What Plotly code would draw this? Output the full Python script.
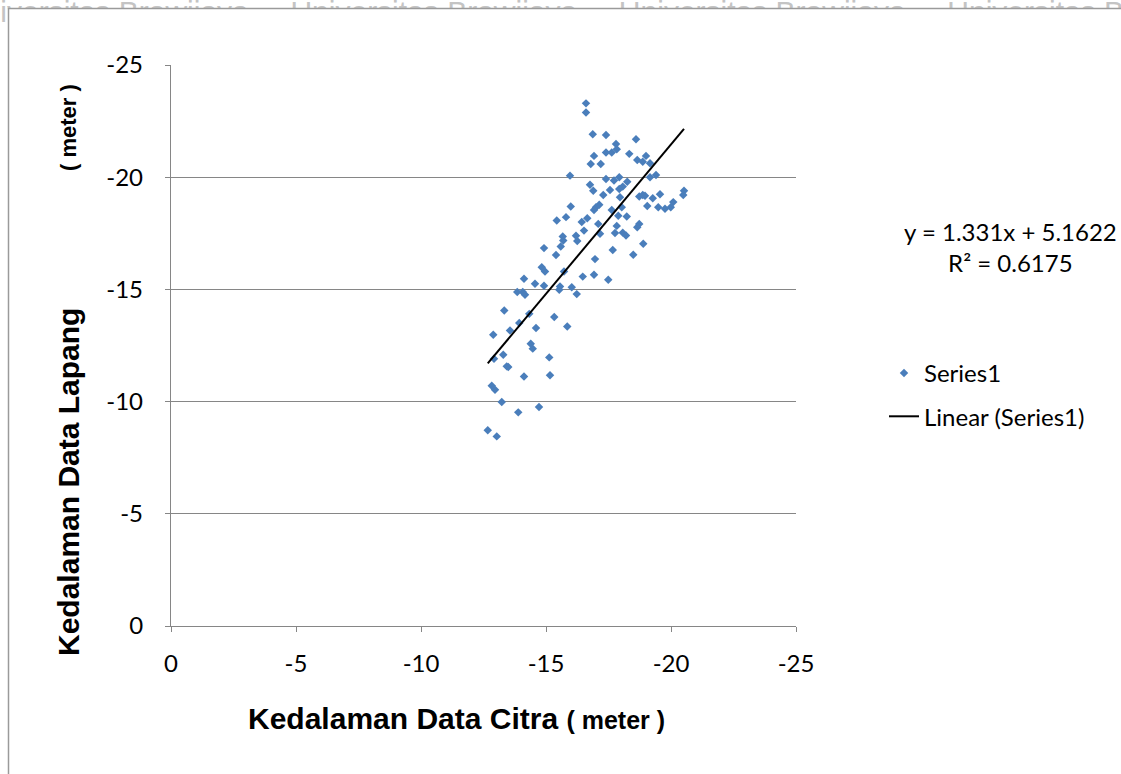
import plotly.graph_objects as go

# Depth from imagery (x) vs. depth measured in the field (y), metres
citra = [
    -16.60, -16.60, -16.87, -17.40, -18.60, -17.80, -17.83, -17.40, -17.63, -16.92,
    -18.33, -19.00, -18.65, -18.87, -19.16, -16.79, -17.19, -15.96, -19.40, -19.16,
    -17.93, -17.40, -17.72, -18.25, -16.76, -18.07, -16.89, -17.93, -17.56, -20.52,
    -20.49, -17.29, -18.73, -18.96, -18.87, -19.56, -19.27, -17.96, -17.13, -17.00,
    -16.92, -18.03, -20.09, -19.99, -19.76, -19.49, -19.05, -17.63, -17.89, -18.23,
    -16.65, -16.43, -17.09, -17.83, -18.73, -18.65, -16.52, -17.16, -17.76, -18.07,
    -18.20, -18.89, -17.67, -18.49, -16.96, -15.99, -15.43, -15.80, -15.67, -16.20,
    -15.59, -16.25, -15.69, -14.92, -15.40, -14.83, -14.96, -15.72, -16.47, -14.12,
    -14.56, -14.92, -15.56, -15.53, -16.03, -16.23, -13.85, -14.07, -14.16, -13.33,
    -14.33, -13.93, -13.56, -14.60, -15.33, -15.85, -12.89, -14.39, -14.47, -13.29,
    -12.92, -15.13, -13.43, -13.49, -14.12, -15.16, -12.83, -12.96, -13.23, -14.72,
    -13.89, -12.67, -13.03, -16.92, -17.49,
]
lapang = [
    -23.29, -22.88, -21.91, -21.88, -21.69, -21.48, -21.25, -21.10, -21.10, -20.95,
    -21.04, -20.95, -20.77, -20.69, -20.62, -20.59, -20.59, -20.07, -20.10, -20.00,
    -20.00, -19.92, -19.85, -19.80, -19.66, -19.58, -19.40, -19.47, -19.43, -19.40,
    -19.21, -19.21, -19.14, -19.17, -19.21, -19.24, -19.06, -19.11, -18.77, -18.66,
    -18.54, -18.66, -18.89, -18.66, -18.59, -18.66, -18.72, -18.54, -18.28, -18.25,
    -18.17, -18.00, -17.92, -17.83, -17.92, -17.77, -17.62, -17.48, -17.51, -17.53,
    -17.40, -17.03, -16.76, -16.54, -16.35, -18.69, -18.07, -18.22, -17.36, -17.39,
    -16.91, -17.16, -17.18, -16.84, -16.53, -15.99, -15.80, -15.80, -15.57, -15.47,
    -15.25, -15.16, -15.13, -14.98, -15.10, -14.79, -14.88, -14.88, -14.76, -14.06,
    -13.91, -13.50, -13.17, -13.28, -13.77, -13.35, -12.98, -12.58, -12.36, -12.09,
    -11.91, -11.97, -11.57, -11.54, -11.12, -11.17, -10.71, -10.53, -9.98, -9.76,
    -9.52, -8.72, -8.45, -15.65, -15.43,
]

# Linear trendline reported for the series
SLOPE = 1.331
INTERCEPT = 5.1622
R_SQUARED = 0.6175

tick_values = [0, -5, -10, -15, -20, -25]
tick_labels = ["0", "-5", "-10", "-15", "-20", "-25"]

WIDTH, HEIGHT = 1121, 774
M_L, M_R, M_T, M_B = 171, 325, 65, 148
PLOT_W = WIDTH - M_L - M_R
PLOT_H = HEIGHT - M_T - M_B


def fx(px):
    """Page pixel column -> paper x."""
    return (px - M_L) / PLOT_W


def fy(py):
    """Page pixel row -> paper y."""
    return (HEIGHT - M_B - py) / PLOT_H


GRID = "#868686"
BLUE = "#4A7EBB"
LABEL_FONT = "Lato, Calibri, sans-serif"
TITLE_FONT = "Liberation Sans, Arial, sans-serif"
LABEL_SIZE = 24

fig = go.Figure()

fig.add_trace(go.Scatter(
    x=citra, y=lapang, mode="markers", name="Series1",
    marker=dict(symbol="diamond", size=6.5, color=BLUE, line=dict(width=0)),
    legendgroup="a",
))

x_lo, x_hi = max(citra), min(citra)
fig.add_trace(go.Scatter(
    x=[x_lo, x_hi],
    y=[SLOPE * x_lo + INTERCEPT, SLOPE * x_hi + INTERCEPT],
    mode="lines", name="Linear (Series1)",
    line=dict(color="black", width=2),
    legendgroup="b",
))

# Page background: watermark line, then the white chart box over it
phrase = "Universitas\u00a0Brawijaya" + "\u00a0" * 5
shapes = [
    dict(
        type="rect", xref="paper", yref="paper", layer="below",
        x0=fx(-41), x1=fx(1400), y0=fy(34), y1=fy(-8),
        line=dict(width=0), fillcolor="rgba(0,0,0,0)",
        label=dict(text=phrase * 4, textposition="top left", padding=0,
                   font=dict(family=TITLE_FONT, size=30, color="#c4c4c4")),
    ),
    dict(
        type="rect", xref="paper", yref="paper", layer="below",
        x0=fx(8.5), x1=fx(1140), y0=fy(800), y1=fy(8.5),
        line=dict(color="#9a9a9a", width=1.5), fillcolor="white",
    ),
]

annotations = [
    dict(text=f"y = {SLOPE}x + {INTERCEPT}<br>R\u00b2 = {R_SQUARED}",
         xref="paper", yref="paper", x=fx(1010), y=fy(247),
         xanchor="center", yanchor="middle", align="center", showarrow=False,
         font=dict(family=LABEL_FONT, size=LABEL_SIZE, color="black")),
    dict(text="<b>Kedalaman Data Citra <span style='font-size:25px'>( meter )</span></b>",
         xref="paper", yref="paper", x=fx(456), y=fy(718),
         xanchor="center", yanchor="middle", showarrow=False,
         font=dict(family=TITLE_FONT, size=30, color="black")),
    dict(text="<b>Kedalaman Data Lapang</b>",
         xref="paper", yref="paper", x=fx(68), y=fy(482), textangle=-90,
         xanchor="center", yanchor="middle", showarrow=False,
         font=dict(family=TITLE_FONT, size=30, color="black")),
    dict(text="<b>( meter )</b>",
         xref="paper", yref="paper", x=fx(68), y=fy(128), textangle=-90,
         xanchor="center", yanchor="middle", showarrow=False,
         font=dict(family=TITLE_FONT, size=22, color="black")),
]

fig.update_layout(
    width=WIDTH, height=HEIGHT,
    margin=dict(l=M_L, r=M_R, t=M_T, b=M_B, pad=0),
    paper_bgcolor="white", plot_bgcolor="rgba(0,0,0,0)",
    shapes=shapes, annotations=annotations,
    showlegend=True,
    legend=dict(x=fx(884), y=fy(351), xanchor="left", yanchor="top",
                traceorder="grouped", tracegroupgap=9,
                font=dict(family=LABEL_FONT, size=LABEL_SIZE, color="black"),
                bgcolor="rgba(0,0,0,0)"),
)
fig.update_xaxes(
    range=[0, -25], tickvals=tick_values, ticktext=tick_labels,
    showgrid=False, zeroline=False,
    showline=True, linecolor=GRID, linewidth=1.3,
    ticks="outside", ticklen=5, tickcolor=GRID, tickwidth=1.3,
    ticklabelstandoff=11,
    tickfont=dict(family=LABEL_FONT, size=LABEL_SIZE, color="black"),
)
fig.update_yaxes(
    range=[0, -25], tickvals=tick_values, ticktext=tick_labels,
    showgrid=True, gridcolor=GRID, gridwidth=1.3, zeroline=False,
    showline=True, linecolor=GRID, linewidth=1.3,
    ticks="outside", ticklen=5, tickcolor=GRID, tickwidth=1.3,
    ticklabelstandoff=17,
    tickfont=dict(family=LABEL_FONT, size=LABEL_SIZE, color="black"),
)

fig.write_html("out.html")
